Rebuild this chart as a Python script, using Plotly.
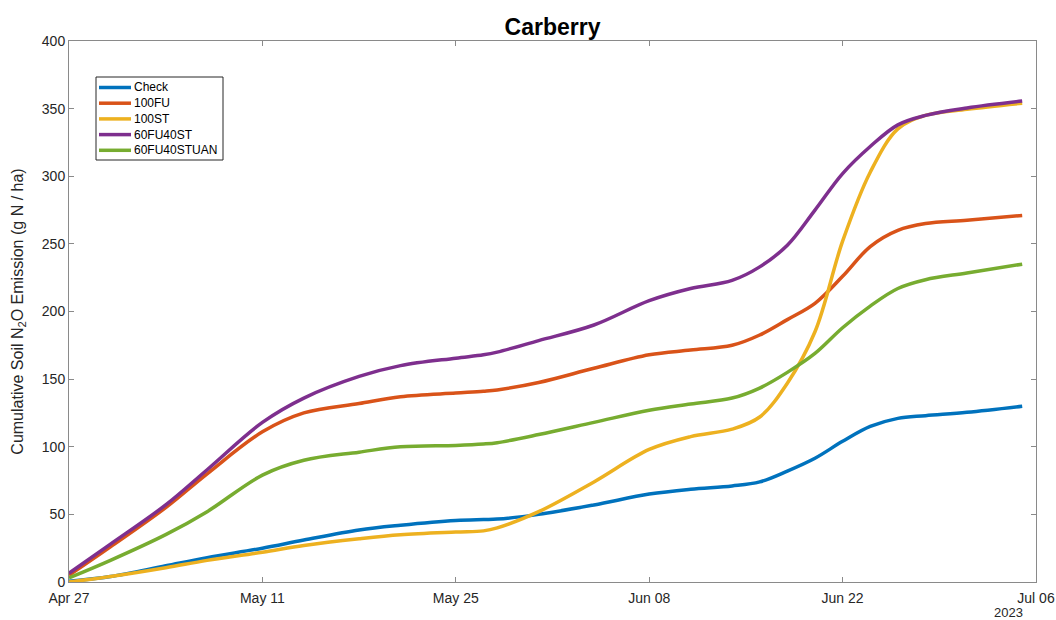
import pandas as pd
import plotly.graph_objects as go

start_date = "2023-04-27"
day_offsets = [0, 3, 7, 10, 14, 17, 21, 24, 28, 30, 31, 34, 38, 42, 45, 48, 50, 52, 54, 56, 58, 60, 62, 65, 69]

check = [0.5, 4, 12, 18, 25, 31, 38.5, 42, 45.5, 46.2, 46.5, 50, 57, 65, 68.6, 71, 74, 82, 91.5, 104, 115, 121, 123, 125.5, 130]
fu100 = [5, 26, 55, 80, 111, 125, 132, 137, 139.7, 141, 142, 147.5, 158, 168, 171.5, 175, 182.6, 194, 206, 226, 248, 260, 265, 267.5, 271]
st100 = [0, 4, 10.5, 16, 22, 27, 32, 35, 37, 37.8, 40, 52, 74, 98, 107.5, 113, 122, 147, 185, 252, 303, 335, 345, 349.5, 354]
fu60st40 = [6.5, 28, 57, 83, 118, 136, 152, 160, 165.5, 168, 170, 178.5, 190, 208, 217, 223, 233, 249, 275, 302, 322, 338, 345, 350.5, 355.6]
fu60st40uan = [3, 16, 35, 52, 79, 90, 96, 100, 101, 102, 103, 109, 118, 127, 131.6, 136, 143.4, 155, 169, 188, 204, 217, 223.5, 228.5, 235]

series_names = ["Check", "100FU", "100ST", "60FU40ST", "60FU40STUAN"]
series_values = [check, fu100, st100, fu60st40, fu60st40uan]
series_colors = ["#0072BD", "#D95319", "#EDB120", "#7E2F8E", "#77AC30"]

tick_dates = ["2023-04-27", "2023-05-11", "2023-05-25", "2023-06-08", "2023-06-22", "2023-07-06"]
tick_labels = ["Apr 27", "May 11", "May 25", "Jun 08", "Jun 22", "Jul 06"]
y_ticks = [0, 50, 100, 150, 200, 250, 300, 350, 400]

dates = pd.Timestamp(start_date) + pd.to_timedelta(day_offsets, unit="D")

FONT = "Arial, Liberation Sans, sans-serif"
AX = "#8a8a8a"

# plot-area geometry (pixels)
W, H = 1056, 620
L, R, T, B = 69, 20, 41, 38
PW, PH = W - L - R, H - T - B


def px(xp):
    return (xp - L) / PW


def py(yp):
    return (H - B - yp) / PH


fig = go.Figure()
for name, vals, col in zip(series_names, series_values, series_colors):
    fig.add_trace(go.Scatter(
        x=dates, y=vals, name=name, mode="lines", showlegend=False,
        line=dict(color=col, width=3.5, shape="spline", smoothing=1.0),
    ))

fig.update_layout(
    width=W, height=H,
    margin=dict(l=L, r=R, t=T, b=B, autoexpand=False),
    paper_bgcolor="white", plot_bgcolor="white",
    font=dict(family=FONT, color="#262626"),
    title=dict(text="<b>Carberry</b>", xref="paper", x=0.5, xanchor="center",
               y=1 - 27 / H, yanchor="middle",
               font=dict(size=23, color="black", family=FONT)),
    showlegend=False,
)

fig.update_xaxes(
    range=[pd.Timestamp("2023-04-27"), pd.Timestamp("2023-07-06")],
    tickvals=pd.to_datetime(tick_dates), ticktext=tick_labels,
    ticks="inside", ticklen=5, tickcolor=AX, showgrid=False, zeroline=False,
    showline=True, linecolor=AX, linewidth=1, mirror="ticks",
    tickfont=dict(size=14, color="#262626"), automargin=False,
    ticklabelstandoff=3,
)
fig.update_yaxes(
    range=[0, 400], tickvals=y_ticks,
    ticks="inside", ticklen=5, tickcolor=AX, showgrid=False, zeroline=False,
    showline=True, linecolor=AX, linewidth=1, mirror="ticks",
    tickfont=dict(size=14, color="#262626"), automargin=False,
    title=dict(text="Cumulative Soil N<sub>2</sub>O Emission (g N / ha)",
               font=dict(size=16, color="#262626"), standoff=14),
)

fig.add_annotation(text="2023", xref="paper", yref="paper", x=px(1008), y=py(612),
                   xanchor="center", yanchor="middle", showarrow=False,
                   font=dict(size=13, color="#262626", family=FONT))

# custom legend (compact, MATLAB-style)
box_x0, box_x1, box_y0, box_y1 = 96, 223, 77, 160
fig.add_shape(type="rect", xref="paper", yref="paper",
              x0=px(box_x0), x1=px(box_x1), y0=py(box_y1), y1=py(box_y0),
              line=dict(color="#262626", width=1), fillcolor="white", layer="above")
row_y0, row_step = 87.5, 15.7
for i, (name, col) in enumerate(zip(series_names, series_colors)):
    yy = row_y0 + i * row_step
    fig.add_shape(type="line", xref="paper", yref="paper",
                  x0=px(99), x1=px(131), y0=py(yy), y1=py(yy),
                  line=dict(color=col, width=3.5), layer="above")
    fig.add_annotation(text=name, xref="paper", yref="paper", x=px(132), y=py(yy),
                       xanchor="left", yanchor="middle", showarrow=False,
                       font=dict(size=12, color="black", family=FONT))

fig.write_html("out.html")
